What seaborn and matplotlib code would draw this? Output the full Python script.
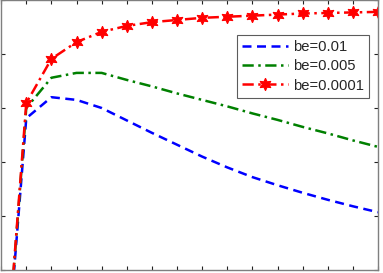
import matplotlib
matplotlib.use("Agg")
import matplotlib.pyplot as plt
import numpy as np
import pandas as pd
import seaborn as sns

x = [0, 1, 2, 3, 4, 5, 6, 7, 8, 9, 10, 11, 12, 13, 14, 15]
be_001 = [-3.0, 2.81, 3.20, 3.15, 3.00, 2.77, 2.54, 2.32, 2.10, 1.90, 1.72, 1.57, 1.43, 1.30, 1.18, 1.07]
be_0005 = [-3.0, 3.00, 3.56, 3.65, 3.65, 3.52, 3.40, 3.27, 3.15, 3.03, 2.90, 2.78, 2.65, 2.53, 2.40, 2.28]
be_00001 = [-3.0, 3.09, 3.91, 4.22, 4.41, 4.52, 4.59, 4.63, 4.67, 4.69, 4.71, 4.73, 4.75, 4.76, 4.77, 4.78]
labels = ["be=0.01", "be=0.005", "be=0.0001"]

sns.set_style("white")
plt.rcParams["font.family"] = ["Liberation Sans", "DejaVu Sans"]

fig = plt.figure(figsize=(3.83, 2.73), dpi=100)
ax = fig.add_axes([0.003, 0.011, 0.984, 0.989])

sns.lineplot(x=x, y=be_001, ax=ax, color="#0000ff", linewidth=1.8,
             linestyle=(0, (3.6, 2.2)), label=labels[0])
sns.lineplot(x=x, y=be_0005, ax=ax, color="#008000", linewidth=1.8,
             linestyle=(0, (4.5, 1.8, 1, 1.8)), label=labels[1])
sns.lineplot(x=x, y=be_00001, ax=ax, color="#ff0000", linewidth=1.8,
             linestyle=(0, (4.5, 1.8, 1, 1.8)), marker=(6, 1, 0), markersize=9,
             markerfacecolor="#ff0000", markeredgecolor="#ff0000", label=labels[2])

ax.set_xlim(0, 15)
ax.set_ylim(0, 5)
ax.set_xticks(np.arange(0, 16, 1))
ax.set_yticks(np.arange(0, 6, 1))
ax.set_xticklabels([])
ax.set_yticklabels([])
ax.tick_params(direction="in", length=3, width=0.8, top=True, right=True,
               bottom=True, left=True, colors="#222222")
for side in ax.spines.values():
    side.set_color("#7f7f7f")
    side.set_linewidth(1.0)

leg = ax.legend(loc="upper right", bbox_to_anchor=(0.976, 0.870), fontsize=10.6,
                frameon=True, fancybox=False, handlelength=3.1, handletextpad=0.35,
                borderpad=0.35, labelspacing=0.35, borderaxespad=0)
leg.get_frame().set_edgecolor("#333333")
leg.get_frame().set_linewidth(0.8)

fig.savefig("out.png", dpi=100)
plt.close(fig)
